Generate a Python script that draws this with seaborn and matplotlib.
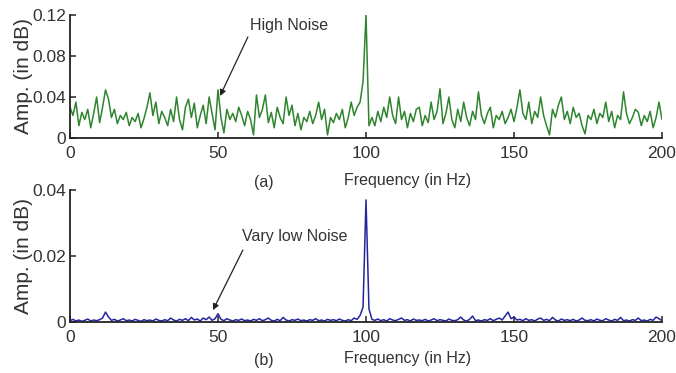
import numpy as np
import pandas as pd
import matplotlib
matplotlib.use("Agg")
import matplotlib.pyplot as plt
import seaborn as sns

# ---- data ----
freq = list(range(0, 201))
high_noise_milli = [
    30, 22, 35, 12, 25, 18, 28, 10, 24, 40,
    15, 30, 47, 38, 20, 28, 14, 22, 18, 25,
    12, 20, 16, 24, 10, 19, 30, 44, 22, 35,
    14, 26, 20, 12, 28, 16, 40, 18, 8, 30,
    38, 20, 34, 10, 22, 32, 14, 40, 24, 8,
    47, 20, 5, 28, 18, 24, 16, 30, 22, 12,
    26, 18, 3, 42, 20, 28, 42, 15, 25, 10,
    30, 20, 14, 40, 22, 32, 12, 24, 8, 20,
    16, 26, 14, 22, 35, 18, 28, 3, 20, 15,
    24, 18, 28, 10, 20, 35, 22, 30, 35, 55,
    120, 12, 20, 12, 26, 16, 30, 20, 40, 22,
    14, 40, 18, 26, 10, 24, 16, 28, 30, 12,
    22, 15, 35, 18, 26, 48, 14, 24, 40, 18,
    10, 28, 16, 35, 20, 12, 26, 18, 45, 22,
    14, 24, 30, 10, 22, 18, 26, 14, 20, 28,
    16, 30, 47, 24, 18, 35, 14, 26, 20, 40,
    22, 12, 3, 28, 20, 32, 40, 18, 26, 14,
    30, 20, 24, 12, 4, 22, 18, 28, 14, 24,
    20, 35, 16, 26, 10, 22, 18, 45, 24, 14,
    20, 28, 25, 12, 22, 16, 26, 10, 20, 35,
    18,
]
low_noise_e4 = [
    4, 8, 3, 6, 2, 5, 9, 3, 6, 4,
    7, 12, 30, 15, 5, 8, 3, 6, 10, 4,
    6, 3, 8, 5, 2, 7, 4, 6, 3, 9,
    5, 3, 7, 4, 12, 6, 3, 8, 5, 10,
    4, 14, 6, 9, 3, 12, 7, 15, 5, 10,
    25, 8, 4, 10, 6, 3, 7, 5, 9, 4,
    6, 3, 8, 5, 10, 4, 7, 12, 5, 3,
    8, 4, 14, 6, 3, 7, 5, 9, 4, 6,
    3, 7, 5, 10, 4, 6, 3, 8, 5, 7,
    4, 9, 5, 3, 7, 4, 12, 8, 20, 45,
    370, 40, 8, 5, 9, 4, 7, 3, 10, 6,
    4, 8, 12, 5, 7, 3, 9, 5, 6, 4,
    8, 3, 6, 10, 4, 7, 5, 3, 9, 5,
    4, 7, 15, 6, 3, 8, 18, 4, 6, 3,
    7, 5, 10, 4, 8, 12, 6, 18, 30, 10,
    15, 6, 8, 4, 10, 5, 7, 3, 9, 12,
    5, 8, 4, 14, 6, 3, 9, 5, 7, 4,
    8, 3, 6, 12, 5, 4, 7, 3, 9, 5,
    4, 10, 6, 3, 8, 5, 14, 4, 6, 3,
    7, 5, 12, 4, 6, 3, 8, 5, 15, 10,
    4,
]
x_ticks = [0, 50, 100, 150, 200]
top_yticks = [0, 0.04, 0.08, 0.12]
top_yticklabels = ["0", "0.04", "0.08", "0.12"]
bot_yticks = [0, 0.02, 0.04]
bot_yticklabels = ["0", "0.02", "0.04"]

df_top = pd.DataFrame({"f": freq, "amp": np.array(high_noise_milli) / 1000.0})
df_bot = pd.DataFrame({"f": freq, "amp": np.array(low_noise_e4) / 10000.0})

sns.set_style("ticks")
plt.rcParams["font.family"] = ["Liberation Sans", "DejaVu Sans"]

fig = plt.figure(figsize=(6.76, 3.73), dpi=100)
ax1 = fig.add_axes([70 / 676, 1 - 138 / 373, 592 / 676, 123 / 373])
ax2 = fig.add_axes([70 / 676, 1 - 322 / 373, 592 / 676, 132 / 373])

sns.lineplot(data=df_top, x="f", y="amp", ax=ax1, color="#2f842f", lw=1.1)
sns.lineplot(data=df_bot, x="f", y="amp", ax=ax2, color="#2525a0", lw=1.1)

for ax, yt, ytl, ymax in [(ax1, top_yticks, top_yticklabels, 0.12),
                          (ax2, bot_yticks, bot_yticklabels, 0.04)]:
    ax.set_xlim(0, 200)
    ax.set_ylim(0, ymax)
    ax.set_xticks(x_ticks)
    ax.set_xticklabels([str(t) for t in x_ticks])
    ax.set_yticks(yt)
    ax.set_yticklabels(ytl)
    ax.set_xlabel("")
    ax.set_ylabel("Amp. (in dB)", fontsize=15, color="#333333")
    ax.yaxis.set_label_coords(-0.062, 0.5)
    sns.despine(ax=ax)
    for s in ("left", "bottom"):
        ax.spines[s].set_linewidth(1.3)
        ax.spines[s].set_color("#222222")
    ax.tick_params(direction="in", length=4, width=1.1, labelsize=12.5,
                   colors="#222222", labelcolor="#333333")
    ax.tick_params(axis="x", pad=6)
    ax.tick_params(axis="y", pad=3)

# x labels and panel tags
fig.text(408 / 676, 1 - 180 / 373, "Frequency (in Hz)", ha="center", va="center",
         fontsize=11.5, color="#333333")
fig.text(264 / 676, 1 - 182 / 373, "(a)", ha="center", va="center",
         fontsize=11.5, color="#333333")
fig.text(408 / 676, 1 - 358 / 373, "Frequency (in Hz)", ha="center", va="center",
         fontsize=11.5, color="#333333")
fig.text(264 / 676, 1 - 361 / 373, "(b)", ha="center", va="center",
         fontsize=11.5, color="#333333")

arrow = dict(arrowstyle="-|>", color="#222222", lw=0.9, mutation_scale=9,
             shrinkA=0, shrinkB=0)
ax1.annotate("", xy=(50.7, 0.041), xytext=(60.1, 0.0986), arrowprops=arrow)
ax1.text(60.8, 0.110, "High Noise", ha="left", va="center", fontsize=11.5,
         color="#333333")
ax2.annotate("", xy=(48.3, 0.0036), xytext=(58.4, 0.0218), arrowprops=arrow)
ax2.text(58.1, 0.0258, "Vary low Noise", ha="left", va="center", fontsize=11.5,
         color="#333333")

fig.savefig("out.png", dpi=100)
